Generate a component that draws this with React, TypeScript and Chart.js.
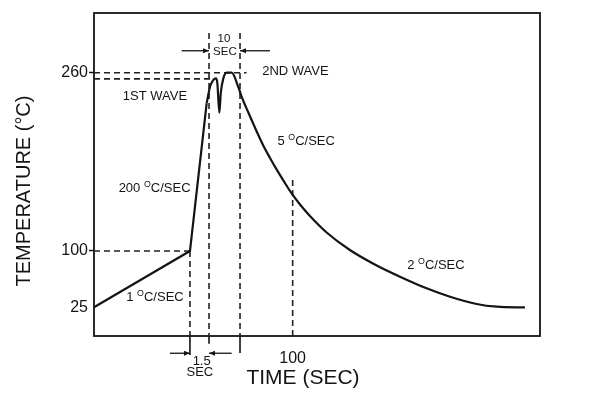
import React, { useEffect, useRef } from 'react';
import { Chart, registerables, LinearScale } from 'chart.js';

Chart.register(...registerables);

// ---- data (time in s, temperature in °C, schematic) ----
const TIME = [0, 48.3, 56.7, 58.4, 60.0, 61.4, 62.1, 63.1, 63.8, 65.1, 66.8, 69.3, 72.6, 74.3, 77.7, 81.9, 85.2, 88.6, 91.9, 95.3, 99.5, 103.7, 108.7, 117.1, 128.8, 142.3, 154.0, 167.4, 179.2, 192.6, 202.7, 216.9];
const TEMP = [26, 100, 232.5, 247.4, 253.4, 254.9, 250.5, 224.1, 241.5, 254.9, 260, 260, 247.4, 238.5, 224.3, 207.3, 194.7, 183.5, 173.2, 163.4, 151.6, 141.7, 131.4, 116.6, 100.9, 80.9, 66.2, 50.9, 39.9, 30.3, 26.7, 25.7];
// points 0..RAMP_LAST form straight ramps (1 °C/s preheat and 200 °C/s rise)
const RAMP_LAST = 2;

const Y_TICKS = [25, 100, 260];
const X_TICKS = [100];

// dashed guide lines: [x0, y0, x1, y1]
const GUIDE_DASHED = [
  [0, 260, 76.8, 260],
  [0, 254.5, 58.4, 254.5],
  [0, 100, 48.3, 100],
  [48.3, 100, 48.3, 0],
  [57.9, 295.6, 57.9, 0],
  [73.5, 295.6, 73.5, 0],
  [100, 163.7, 100, 0],
];
// solid extensions below the time axis
const GUIDE_SOLID = [
  [48.3, 0, 48.3, -17],
  [57.9, 0, 57.9, -7],
  [73.5, 0, 73.5, -15.2],
];
// arrows: [xFrom, yFrom, xTip, yTip]
const ARROWS = [
  [44.1, 279.7, 57.9, 279.7],
  [88.6, 279.7, 73.5, 279.7],
  [38.2, -15.4, 48.3, -15.4],
  [69.3, -15.4, 57.9, -15.4],
];

// annotations ('|' separates superscript parts)
const NOTE_TEXT = ['1ST WAVE', '2ND WAVE', '10', 'SEC', '200 |O|C/SEC', '5 |O|C/SEC', '2 |O|C/SEC', '1 |O|C/SEC', '1.5', 'SEC'];
const NOTE_X = [30.7, 101.4, 65.4, 65.9, 30.5, 106.8, 172.1, 30.7, 54.2, 53.3];
const NOTE_Y = [239.1, 261.5, 290.2, 278.8, 156.5, 198.1, 81.6, 39.5, -22.3, -32.8];
const NOTE_SIZE = [13, 13, 11.5, 11.5, 13, 13, 13, 13, 13, 13];

const Y_TITLE = 'TEMPERATURE (°C)';
const X_TITLE = 'TIME (SEC)';

// schematic (piecewise) temperature axis
const Y_BREAK_VALUES = [0, 25, 100, 260, 313.6];
const Y_BREAK_FRACTIONS = [0, 0.08669, 0.26316, 0.81517, 1];

const FONT = '"Liberation Sans", Arial, Helvetica, sans-serif';
const INK = '#141414';

function seg(arr: number[], v: number) {
  let i = 0;
  if (v <= arr[0]) return 0;
  if (v >= arr[arr.length - 1]) return arr.length - 2;
  while (i < arr.length - 2 && v > arr[i + 1]) i++;
  return i;
}
function toFrac(v: number) {
  const i = seg(Y_BREAK_VALUES, v);
  const V = Y_BREAK_VALUES, F = Y_BREAK_FRACTIONS;
  return F[i] + ((v - V[i]) * (F[i + 1] - F[i])) / (V[i + 1] - V[i]);
}
function fromFrac(f: number) {
  const i = seg(Y_BREAK_FRACTIONS, f);
  const V = Y_BREAK_VALUES, F = Y_BREAK_FRACTIONS;
  return V[i] + ((f - F[i]) * (V[i + 1] - V[i])) / (F[i + 1] - F[i]);
}

class PiecewiseScale extends LinearScale {
  static id = 'piecewise';
  static defaults = (LinearScale as any).defaults;
  getPixelForValue(value: any) {
    if (value === null || value === undefined || isNaN(value)) return NaN;
    return (this as any).getPixelForDecimal(toFrac(+value));
  }
  getValueForPixel(pixel: number) {
    return fromFrac((this as any).getDecimalForPixel(pixel));
  }
}
Chart.register(PiecewiseScale as any);

function drawRich(ctx: CanvasRenderingContext2D, text: string, cx: number, cy: number, size: number) {
  const parts = text.split('|');
  const supSize = size * 0.68;
  let total = 0;
  const widths = parts.map((p, i) => {
    ctx.font = `${i % 2 ? supSize : size}px ${FONT}`;
    const w = ctx.measureText(p).width;
    total += w;
    return w;
  });
  let x = cx - total / 2;
  ctx.textAlign = 'left';
  ctx.textBaseline = 'middle';
  parts.forEach((p, i) => {
    const sup = i % 2 === 1;
    ctx.font = `${sup ? supSize : size}px ${FONT}`;
    ctx.fillText(p, x, sup ? cy - size * 0.3 : cy);
    x += widths[i];
  });
}

const annotationPlugin = {
  id: 'annotations',
  beforeDatasetsDraw(chart: any) {
    const { ctx, chartArea: a } = chart;
    ctx.save();
    ctx.strokeStyle = INK;
    ctx.lineWidth = 1.8;
    ctx.strokeRect(a.left, a.top, a.right - a.left, a.bottom - a.top);
    ctx.restore();
  },
  afterDraw(chart: any) {
    const { ctx, chartArea: a } = chart;
    const xs = chart.scales.x;
    const ys = chart.scales.y;
    ctx.save();
    ctx.fillStyle = INK;
    // arrow heads
    ARROWS.forEach(([x0, , x1, y1]) => {
      const px = xs.getPixelForValue(x1);
      const py = ys.getPixelForValue(y1);
      const dir = x1 > x0 ? 1 : -1;
      ctx.beginPath();
      ctx.moveTo(px, py);
      ctx.lineTo(px - dir * 6, py - 2.6);
      ctx.lineTo(px - dir * 6, py + 2.6);
      ctx.closePath();
      ctx.fill();
    });
    // notes
    NOTE_TEXT.forEach((t, i) => {
      drawRich(ctx, t, xs.getPixelForValue(NOTE_X[i]), ys.getPixelForValue(NOTE_Y[i]), NOTE_SIZE[i]);
    });
    // axis titles
    ctx.textAlign = 'center';
    ctx.textBaseline = 'middle';
    ctx.font = `21px ${FONT}`;
    ctx.fillText(X_TITLE, a.left + 209, a.bottom + 42);
    ctx.save();
    ctx.translate(a.left - 70, (a.top + a.bottom) / 2 + 16.5);
    ctx.rotate(-Math.PI / 2);
    ctx.font = `20px ${FONT}`;
    ctx.fillText(Y_TITLE, 0, 0);
    ctx.restore();
    ctx.restore();
  },
};

const toPts = (s: number[]) => [
  { x: s[0], y: s[1] },
  { x: s[2], y: s[3] },
];

export default function App() {
  const ref = useRef<HTMLCanvasElement>(null);
  useEffect(() => {
    if (!ref.current) return;
    const profile = TIME.map((t, i) => ({ x: t, y: TEMP[i] }));
    const datasets: any[] = [
      {
        data: profile.slice(0, RAMP_LAST + 1),
        borderColor: INK,
        borderWidth: 2.2,
        pointRadius: 0,
        tension: 0,
        clip: false,
      },
      {
        data: profile.slice(RAMP_LAST),
        borderColor: INK,
        borderWidth: 2.2,
        pointRadius: 0,
        cubicInterpolationMode: 'monotone',
        clip: false,
      },
      ...GUIDE_DASHED.map((s) => ({
        data: toPts(s),
        borderColor: '#222',
        borderWidth: 1.6,
        borderDash: [6, 4],
        pointRadius: 0,
        clip: false,
      })),
      ...GUIDE_SOLID.map((s) => ({
        data: toPts(s),
        borderColor: INK,
        borderWidth: 1.6,
        pointRadius: 0,
        clip: false,
      })),
      ...ARROWS.map((s) => ({
        data: toPts(s),
        borderColor: INK,
        borderWidth: 1.3,
        pointRadius: 0,
        clip: false,
      })),
    ];
    const chart = new Chart(ref.current, {
      type: 'line',
      data: { datasets },
      plugins: [annotationPlugin],
      options: {
        animation: false,
        responsive: false,
        devicePixelRatio: 1,
        events: [],
        layout: { padding: { left: 0, top: 13, right: 59, bottom: 0 } },
        plugins: { legend: { display: false }, tooltip: { enabled: false } },
        scales: {
          x: {
            type: 'linear',
            min: 0,
            max: 224.5,
            afterBuildTicks: (s: any) => {
              s.ticks = X_TICKS.map((v) => ({ value: v }));
            },
            afterFit: (s: any) => {
              s.height = 60;
            },
            grid: { display: false },
            border: { display: false },
            ticks: {
              color: INK,
              padding: 5,
              maxRotation: 0,
              autoSkip: false,
              font: { family: FONT, size: 16 },
            },
          },
          y: {
            type: 'piecewise' as any,
            min: 0,
            max: 313.6,
            afterBuildTicks: (s: any) => {
              s.ticks = Y_TICKS.map((v) => ({ value: v }));
            },
            afterFit: (s: any) => {
              s.width = 94;
            },
            grid: {
              display: true,
              drawOnChartArea: false,
              drawTicks: true,
              tickLength: 5,
              tickWidth: 1.5,
              tickColor: (c: any) => (c.tick && c.tick.value === 25 ? 'rgba(0,0,0,0)' : INK),
            },
            border: { display: false },
            ticks: {
              color: INK,
              padding: 1,
              autoSkip: false,
              font: { family: FONT, size: 16 },
            },
          },
        },
      } as any,
    });
    return () => chart.destroy();
  }, []);
  return (
    <div style={{ position: 'fixed', left: 0, top: 0, width: 599, height: 396, background: '#fff' }}>
      <canvas ref={ref} width={599} height={396} style={{ display: 'block', width: 599, height: 396 }} />
    </div>
  );
}
